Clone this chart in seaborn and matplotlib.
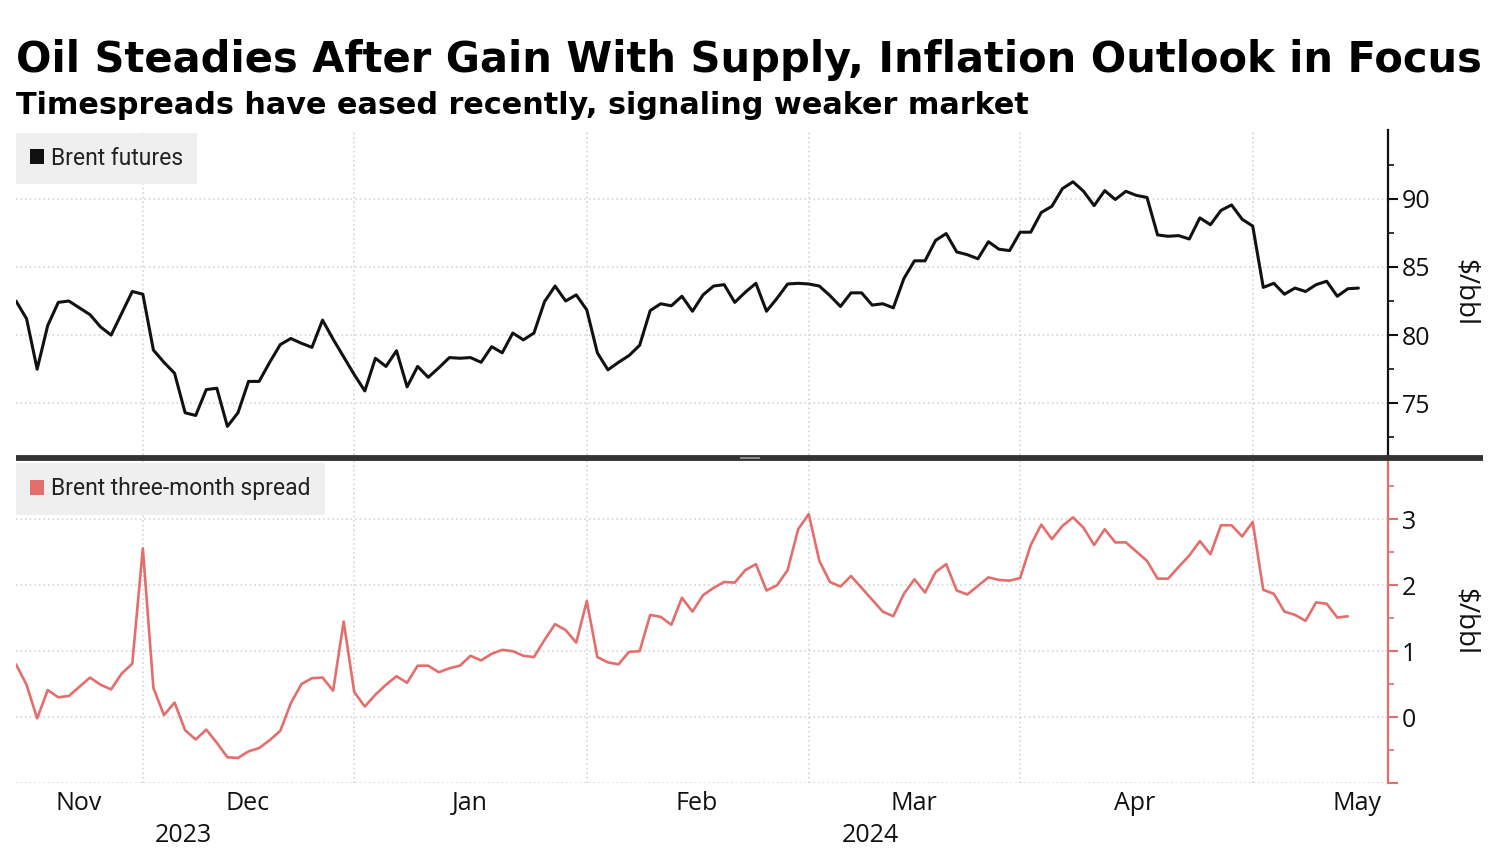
import matplotlib
matplotlib.use("Agg")
import numpy as np
import pandas as pd
import matplotlib.pyplot as plt
import seaborn as sns
from matplotlib.patches import Patch, Rectangle
from matplotlib.lines import Line2D
from matplotlib.ticker import FixedLocator
import matplotlib.transforms as mtransforms

# ---------------- data ----------------
title = "Oil Steadies After Gain With Supply, Inflation Outlook in Focus"
subtitle = "Timespreads have eased recently, signaling weaker market"
futures_label = "Brent futures"
spread_label = "Brent three-month spread"
unit_label = r"\$/bbl"

# daily trading-day series, 14 Nov 2023 onward
brent_futures = [
    82.5, 81.2, 77.5, 80.7, 82.4, 82.5, 82.0, 81.5, 80.6, 80.0,
    81.6, 83.2, 83.0, 78.9, 78.0, 77.2, 74.3, 74.1, 76.0, 76.1,
    73.3, 74.3, 76.6, 76.6, 78.0, 79.3, 79.75, 79.4, 79.1, 81.1,
    79.7, 78.4, 77.1, 75.9, 78.3, 77.7, 78.85, 76.2, 77.7, 76.9,
    77.6, 78.35, 78.3, 78.35, 78.0, 79.15, 78.7, 80.15, 79.65, 80.15,
    82.45, 83.6, 82.5, 82.95, 81.85, 78.7, 77.45, 78.0, 78.5, 79.25,
    81.8, 82.3, 82.15, 82.85, 81.75, 82.95, 83.6, 83.7, 82.4, 83.15,
    83.8, 81.75, 82.7, 83.75, 83.8, 83.75, 83.6, 82.9, 82.1, 83.1,
    83.1, 82.2, 82.3, 82.0, 84.15, 85.45, 85.45, 86.95, 87.45, 86.1,
    85.9, 85.6, 86.85, 86.3, 86.2, 87.55, 87.55, 89.0, 89.45, 90.75,
    91.25, 90.55, 89.5, 90.6, 89.95, 90.55, 90.25, 90.1, 87.35, 87.25,
    87.3, 87.05, 88.6, 88.1, 89.15, 89.55, 88.5, 88.0, 83.5, 83.8,
    83.0, 83.45, 83.2, 83.7, 83.95, 82.85, 83.4, 83.45,
]

brent_spread = [
    0.80, 0.49, -0.02, 0.41, 0.30, 0.32, 0.46, 0.60, 0.49, 0.42,
    0.66, 0.81, 2.56, 0.44, 0.03, 0.22, -0.20, -0.34, -0.19, -0.39,
    -0.61, -0.62, -0.52, -0.47, -0.35, -0.21, 0.21, 0.50, 0.59, 0.60,
    0.40, 1.45, 0.38, 0.16, 0.34, 0.49, 0.62, 0.52, 0.78, 0.78,
    0.68, 0.74, 0.78, 0.93, 0.86, 0.96, 1.02, 1.00, 0.93, 0.91,
    1.17, 1.41, 1.32, 1.13, 1.76, 0.91, 0.83, 0.80, 0.99, 1.00,
    1.55, 1.52, 1.40, 1.81, 1.60, 1.85, 1.96, 2.05, 2.04, 2.23,
    2.32, 1.92, 2.00, 2.23, 2.85, 3.08, 2.37, 2.05, 1.98, 2.14,
    1.96, 1.78, 1.60, 1.53, 1.87, 2.09, 1.89, 2.20, 2.32, 1.92,
    1.86, 1.99, 2.12, 2.08, 2.07, 2.11, 2.61, 2.92, 2.70, 2.90,
    3.03, 2.87, 2.61, 2.85, 2.65, 2.65, 2.51, 2.37, 2.10, 2.10,
    2.28, 2.45, 2.67, 2.47, 2.91, 2.91, 2.74, 2.96, 1.93, 1.87,
    1.60, 1.55, 1.46, 1.74, 1.72, 1.51, 1.53,
]

month_labels = ["Nov", "Dec", "Jan", "Feb", "Mar", "Apr", "May"]
year_labels = ["2023", "2024"]
month_end_idx = [12, 32, 54, 75, 95, 117]      # last trading day of each month
futures_ticks = [75, 80, 85, 90]
futures_minor = [72.5, 77.5, 82.5, 87.5, 92.5]
spread_ticks = [-1, 0, 1, 2, 3]
spread_tick_labels = ["", "0", "1", "2", "3"]
spread_minor = [-0.5, 0.5, 1.5, 2.5, 3.5]

# ---------------- layout ----------------
W, H = 1500, 850
month_label_pos = [5.9, 21.9, 42.9, 64.4, 84.9, 105.8, 126.9]
year_label_pos = [15.8, 80.8]
xlim = (0, 129.8)
black = "#111111"
red = "#e46e6c"
grid_col = "#cfcfcf"
legend_bg = "#efefef"

sns.set_theme(style="white")
plt.rcParams["font.family"] = ["Open Sans", "DejaVu Sans"]
plt.rcParams["axes.linewidth"] = 1.5

fig = plt.figure(figsize=(W / 100, H / 100), dpi=100)
fig.patch.set_facecolor("white")

def fx(px):
    return px / W

def fy(py):
    return 1 - py / H

ax1 = fig.add_axes([fx(16), fy(455), fx(1388 - 16), (455 - 130) / H])
ax2 = fig.add_axes([fx(16), fy(783), fx(1388 - 16), (783 - 460) / H], sharex=ax1)

df_f = pd.DataFrame({"idx": np.arange(len(brent_futures)), "value": brent_futures})
df_s = pd.DataFrame({"idx": np.arange(len(brent_spread)), "value": brent_spread})

sns.lineplot(data=df_f, x="idx", y="value", ax=ax1, color=black, linewidth=2.2,
             legend=False, zorder=5)
sns.lineplot(data=df_s, x="idx", y="value", ax=ax2, color=red, linewidth=1.9,
             legend=False, zorder=5)

grid_kw = dict(color=grid_col, linestyle=(0, (1, 2)), linewidth=1.1)

for ax, ticks, minor, lim, col in [
    (ax1, futures_ticks, futures_minor, (71.2, 95.05), black),
    (ax2, spread_ticks, spread_minor, (-1, 3.9), red),
]:
    ax.set_xlim(*xlim)
    ax.set_ylim(*lim)
    ax.set_xlabel("")
    ax.set_ylabel("")
    for s in ["top", "left", "bottom"]:
        ax.spines[s].set_visible(False)
    ax.spines["right"].set_color(col)
    ax.spines["right"].set_linewidth(1.6)
    ax.yaxis.tick_right()
    ax.yaxis.set_major_locator(FixedLocator(ticks))
    ax.yaxis.set_minor_locator(FixedLocator(minor))
    ax.tick_params(axis="y", which="major", direction="out", length=7, width=1.5,
                   color=col, pad=3, labelsize=18, labelcolor="#111111")
    ax.tick_params(axis="y", which="minor", direction="out", length=4, width=1.2,
                   color=col)
    ax.xaxis.set_minor_locator(FixedLocator(month_end_idx))
    ax.tick_params(axis="x", which="both", length=0)
    ax.grid(False)
    ax.grid(axis="y", which="major", **grid_kw)
    ax.grid(axis="x", which="minor", **grid_kw)
    ax.set_axisbelow(True)
    ax.text(1.056, 0.5, unit_label, transform=ax.transAxes, rotation=270,
            ha="center", va="center", fontsize=20, color="#111111")

ax2.set_yticklabels(spread_tick_labels)
ax1.xaxis.set_major_locator(FixedLocator(month_label_pos))
ax1.tick_params(axis="x", labelbottom=False)
ax2.set_xticks(month_label_pos)
ax2.set_xticklabels(month_labels)
ax2.tick_params(axis="x", which="major", labelsize=18, pad=6, labelcolor="#111111")

trans = mtransforms.blended_transform_factory(ax2.transData, ax2.transAxes)
for pos, lab in zip(year_label_pos, year_labels):
    ax2.text(pos, -0.161, lab, transform=trans, ha="center", va="center",
             fontsize=18, color="#111111")

# legends
for ax, lab, col, anchor_y in [(ax1, futures_label, black, 0.992),
                               (ax2, spread_label, red, 0.99)]:
    leg = ax.legend(handles=[Patch(facecolor=col, edgecolor="none", label=lab)],
                    loc="upper left", bbox_to_anchor=(0.0, anchor_y),
                    borderaxespad=0, frameon=True, fancybox=False,
                    facecolor=legend_bg, edgecolor="none", framealpha=1,
                    prop={"family": ["Roboto", "DejaVu Sans"], "size": 16.5},
                    handlelength=0.6, handleheight=0.6,
                    handletextpad=0.3, borderpad=0.62)
    leg.get_frame().set_linewidth(0)
    for t in leg.get_texts():
        t.set_color("#222222")

# separator bar between panels
fig.add_artist(Line2D([fx(16), fx(1483)], [fy(457.5), fy(457.5)],
                      color="#333333", linewidth=4.2, solid_capstyle="butt",
                      zorder=10))
fig.add_artist(Rectangle((fx(740), fy(459)), fx(20), 2.5 / H,
                         facecolor="#8a8a8a", edgecolor="none", zorder=11))

# titles, fitted to the reference widths
t1 = fig.text(fx(16), fy(72), title, fontsize=27, fontweight="bold",
              family="DejaVu Sans", va="baseline", ha="left", color="black")
t2 = fig.text(fx(16), fy(114), subtitle, fontsize=20, fontweight="bold",
              family="DejaVu Sans", va="baseline", ha="left", color="black")
fig.canvas.draw()
r = fig.canvas.get_renderer()
for t, target in [(t1, 1466), (t2, 1016)]:
    w = t.get_window_extent(r).width
    t.set_fontsize(t.get_fontsize() * target / w)

fig.savefig("out.png", dpi=100, facecolor="white")
